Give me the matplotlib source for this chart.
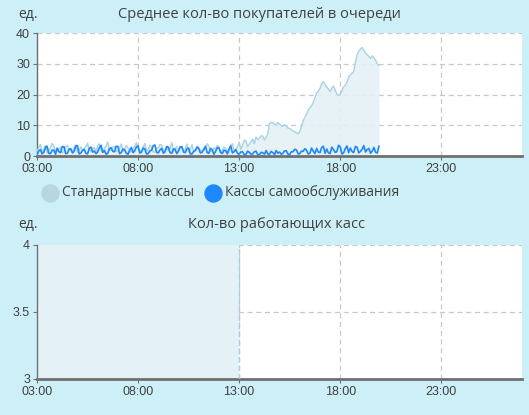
import matplotlib
matplotlib.use("Agg")
import matplotlib.pyplot as plt
import numpy as np

plt.rcParams['font.family'] = ['Open Sans', 'DejaVu Sans']

# ---- data ----
start_hour = 3.0
step_min = 5
tick_hours = [3, 8, 13, 18, 23]
tick_labels = ["03:00", "08:00", "13:00", "18:00", "23:00"]

queue_standard = [
    1.5, 2.8, 3.8, 1.2, 2.2, 3.4, 1.0, 1.9, 2.6, 4.1,
    3.2, 1.5, 1.8, 2.4, 2.9, 1.1, 1.4, 3.0, 3.5, 2.2,
    2.0, 1.3, 2.7, 3.6, 1.2, 2.0, 3.0, 1.6, 2.4, 3.1,
    4.2, 1.8, 1.6, 2.5, 2.8, 1.4, 3.4, 4.0, 1.9, 1.2,
    2.5, 3.3, 4.6, 1.7, 2.1, 2.9, 3.1, 1.5, 1.7, 2.6,
    3.9, 1.6, 2.3, 3.4, 2.8, 1.3, 1.5, 2.2, 3.3, 4.3,
    2.6, 1.5, 1.8, 2.9, 4.1, 1.6, 2.2, 3.5, 3.0, 1.2,
    1.4, 2.6, 2.7, 3.8, 3.6, 1.7, 2.0, 3.1, 1.6, 2.3,
    4.4, 1.4, 2.5, 3.0, 1.9, 2.8, 3.2, 1.5, 2.4, 3.9,
    1.3, 2.2, 3.7, 1.4, 2.1, 3.2, 2.9, 1.8, 1.7, 2.6,
    2.6, 4.0, 3.3, 1.6, 1.5, 2.7, 2.2, 3.5, 3.0, 1.1,
    1.8, 2.9, 2.5, 1.4, 1.2, 3.6, 4.0, 1.7, 2.3, 2.8,
    4.5, 2.2, 3.5, 5.2, 5.0, 3.1, 3.8, 4.6, 5.5, 4.0, 6.2, 5.4,
    5.8, 6.6, 6.5, 5.2, 6.0, 7.2, 10.5, 11.0, 10.8, 10.3, 10.2, 10.9,
    10.4, 9.9, 9.6, 10.2, 9.8, 9.1, 9.0, 8.6, 8.2, 7.9, 7.6, 7.2,
    8.0, 9.8, 11.5, 12.6, 13.5, 14.9, 15.8, 16.3, 17.5, 19.0, 20.5, 21.2,
    22.0, 23.5, 24.2, 23.4, 22.5, 21.8, 21.0, 22.0, 22.8, 21.5, 20.2, 19.8,
    20.0, 21.2, 22.5, 23.1, 24.0, 25.6, 26.5, 26.9, 27.5, 30.5, 33.0, 34.2,
    34.8, 35.3, 34.5, 33.6, 33.0, 32.4, 31.8, 32.6, 32.0, 31.2, 30.0, 29.5,
]
queue_self = [
    0.4, 1.6, 2.1, 0.7, 1.2, 2.8, 3.2, 0.9, 0.8, 1.9,
    1.9, 0.6, 2.6, 1.4, 1.1, 3.1, 3.0, 0.8, 0.9, 2.2,
    2.4, 1.0, 1.5, 3.3, 3.4, 0.7, 1.0, 1.8, 2.2, 0.9,
    0.7, 2.5, 2.9, 1.3, 1.6, 0.8, 1.3, 2.7, 3.5, 1.2,
    1.8, 0.6, 0.9, 2.4, 2.7, 1.5, 1.4, 3.2, 3.1, 0.8,
    1.1, 2.3, 2.0, 0.9, 0.6, 1.9, 2.8, 1.1, 1.7, 3.0,
    3.3, 1.0, 1.2, 2.6, 2.3, 0.7, 0.8, 1.7, 1.9, 3.4,
    3.6, 1.2, 1.0, 2.0, 2.5, 0.9, 1.4, 3.1, 2.9, 1.1,
    0.9, 2.3, 2.2, 0.8, 1.6, 3.0, 3.0, 1.3, 1.1, 2.4,
    2.6, 0.7, 0.7, 1.5, 1.8, 2.9, 2.4, 1.0, 1.2, 2.1,
    3.2, 1.1, 0.9, 2.5, 2.0, 0.6, 1.5, 2.7, 2.7, 1.2,
    0.8, 1.9, 1.7, 0.7, 2.3, 3.3, 1.0, 1.4, 2.1, 0.9,
    0.6, 1.3, 1.4, 0.5, 0.5, 1.6, 1.2, 0.6, 0.7, 1.4, 1.6, 0.5,
    0.4, 1.2, 1.1, 0.6, 1.8, 0.7, 0.6, 1.5, 1.1, 0.5, 1.8, 0.9,
    1.3, 0.6, 0.9, 1.7, 1.7, 0.6, 0.5, 1.4, 1.4, 2.2, 2.0, 0.7,
    0.8, 1.6, 1.5, 2.4, 1.9, 0.7, 0.9, 2.6, 1.6, 0.8, 2.5, 1.3,
    1.1, 2.8, 3.2, 0.9, 2.3, 1.0, 0.8, 2.9, 2.1, 1.2, 1.4, 3.5,
    3.0, 0.7, 1.0, 2.4, 3.3, 1.1, 2.6, 1.5, 1.1, 3.1, 2.9, 1.0,
    1.5, 2.2, 3.4, 1.3, 2.1, 2.5, 0.9, 1.6, 2.8, 1.2, 1.0, 3.2,
]

registers_hours = [3.0, 13.0]
registers_count = [4, 4]

times = start_hour + np.arange(len(queue_standard)) * step_min / 60.0

# ---- style ----
bg = "#cdf0f8"
grid_c = "#c8c8c8"
text_c = "#404040"
std_line = "#a8d2e2"
std_fill = "#e4f1f6"
self_c = "#1e88ff"

fig = plt.figure(figsize=(5.29, 4.15), dpi=100, facecolor=bg)

def style_axes(ax, ymin, ymax, yticks, ylabels):
    ax.set_facecolor("white")
    ax.set_xlim(3, 27)
    ax.set_ylim(ymin, ymax)
    ax.set_xticks(tick_hours)
    ax.set_xticklabels(tick_labels)
    ax.set_yticks(yticks)
    ax.set_yticklabels(ylabels)
    for s in ("top", "right"):
        ax.spines[s].set_visible(False)
    ax.spines["left"].set_color("#707070")
    ax.spines["left"].set_linewidth(1.0)
    ax.spines["bottom"].set_color("#707070")
    ax.spines["bottom"].set_linewidth(2.0)
    ax.tick_params(axis="both", colors="#707070", labelcolor=text_c,
                   labelsize=9, length=3, width=0.8, pad=2)
    for lbl in ax.get_xticklabels() + ax.get_yticklabels():
        lbl.set_family(['Liberation Sans', 'DejaVu Sans'])
    ax.grid(True, color=grid_c, linestyle=(0, (4, 3)), linewidth=0.9)
    ax.set_axisbelow(True)

# top chart
ax1 = fig.add_axes([0.070, 0.624, 0.917, 0.296])
style_axes(ax1, 0, 40, [0, 10, 20, 30, 40], ["0", "10", "20", "30", "40"])
ax1.fill_between(times, 0, queue_standard, color=std_fill, alpha=0.9, lw=0, zorder=2)
ax1.plot(times, queue_standard, color=std_line, lw=1.0, zorder=3)
ax1.plot(times, queue_self, color=self_c, lw=1.2, zorder=4)

fig.text(0.034, 0.966, "ед.", fontsize=10, color=text_c, ha="left", va="center")
fig.text(0.49, 0.966, "Среднее кол-во покупателей в очереди", fontsize=10.5,
         color=text_c, ha="center", va="center")

# legend
lax = fig.add_axes([0, 0.51, 1, 0.05])
lax.set_axis_off()
lax.set_xlim(0, 529)
lax.set_ylim(0, 1)
lax.scatter([50], [0.5], s=150, color="#b9d5e2", zorder=3)
lax.text(62, 0.5, "Стандартные кассы", fontsize=10, color=text_c, va="center", ha="left")
lax.scatter([213], [0.5], s=150, color=self_c, zorder=3)
lax.text(225, 0.5, "Кассы самообслуживания", fontsize=10, color=text_c, va="center", ha="left")

# bottom chart
ax2 = fig.add_axes([0.070, 0.087, 0.917, 0.323])
style_axes(ax2, 3, 4, [3, 3.5, 4], ["3", "3.5", "4"])
ax2.fill_between(registers_hours, 3, registers_count, color="#e4f1f7", lw=0, zorder=2)
ax2.plot(registers_hours, registers_count, color="#b8d8e4", lw=0.8, zorder=1)
ax2.vlines(registers_hours[-1], 3, registers_count[-1], color="#a8cfe0",
           lw=1.0, linestyles=(0, (4, 2)), zorder=3)

fig.text(0.034, 0.458, "ед.", fontsize=10, color=text_c, ha="left", va="center")
fig.text(0.523, 0.458, "Кол-во работающих касс", fontsize=10.5,
         color=text_c, ha="center", va="center")

fig.savefig("out.png", dpi=100, facecolor=bg)
